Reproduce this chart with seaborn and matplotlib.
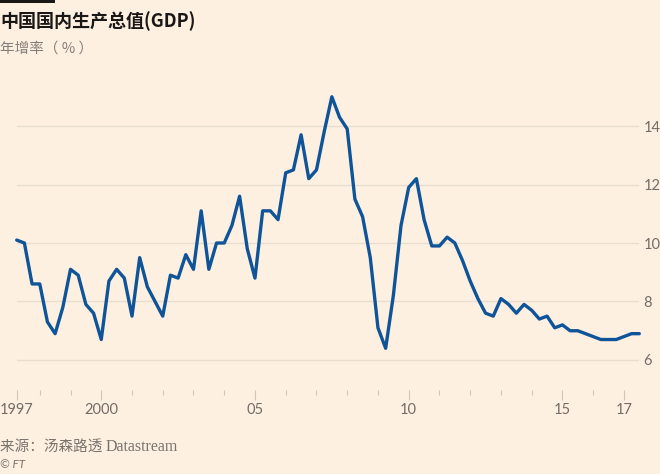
import matplotlib
matplotlib.use("Agg")
import matplotlib.pyplot as plt
from matplotlib.patches import Rectangle
import seaborn as sns
import pandas as pd

# 中国GDP 季度同比增长（%），1997Q1 - 2017Q2
quarters = pd.period_range("1997Q1", "2017Q2", freq="Q")
gdp_growth = [
    10.1, 10.0, 8.6, 8.6,    # 1997
    7.3, 6.9, 7.8, 9.1,      # 1998
    8.9, 7.9, 7.6, 6.7,      # 1999
    8.7, 9.1, 8.8, 7.5,      # 2000
    9.5, 8.5, 8.0, 7.5,      # 2001
    8.9, 8.8, 9.6, 9.1,      # 2002
    11.1, 9.1, 10.0, 10.0,   # 2003
    10.6, 11.6, 9.8, 8.8,    # 2004
    11.1, 11.1, 10.8, 12.4,  # 2005
    12.5, 13.7, 12.2, 12.5,  # 2006
    13.8, 15.0, 14.3, 13.9,  # 2007
    11.5, 10.9, 9.5, 7.1,    # 2008
    6.4, 8.2, 10.6, 11.9,    # 2009
    12.2, 10.8, 9.9, 9.9,    # 2010
    10.2, 10.0, 9.4, 8.7,    # 2011
    8.1, 7.6, 7.5, 8.1,      # 2012
    7.9, 7.6, 7.9, 7.7,      # 2013
    7.4, 7.5, 7.1, 7.2,      # 2014
    7.0, 7.0, 6.9, 6.8,      # 2015
    6.7, 6.7, 6.7, 6.8,      # 2016
    6.9, 6.9,                # 2017
]
y_ticks = [6, 8, 10, 12, 14]
x_major = [1997.25, 2000, 2005, 2010, 2015, 2017]
x_major_labels = ["1997", "2000", "05", "10", "15", "17"]
x_minor = [y for y in range(1998, 2017) if y not in x_major]

# 季度末的时间位置
df = pd.DataFrame({"t": quarters.year + quarters.quarter / 4, "gdp": gdp_growth})

bg = "#fdf0e1"
grey = "#736c66"
sns.set_theme(style="white")
plt.rcParams["font.family"] = ["Lato", "Noto Sans CJK SC", "DejaVu Sans"]

W, H = 660, 474
fig = plt.figure(figsize=(W / 100, H / 100), dpi=100, facecolor=bg)
ax = fig.add_axes([16.7 / W, 84 / H, 622.6 / W, 302 / H])
ax.set_facecolor(bg)

sns.lineplot(data=df, x="t", y="gdp", color="#0f5499", linewidth=2.4, ax=ax)
for ln in ax.lines:
    ln.set_clip_on(False)

ax.set_xlim(1997.25, 2017.5)
ax.set_ylim(4.974, 15.3)
ax.set_xlabel("")
ax.set_ylabel("")

ax.yaxis.tick_right()
ax.set_yticks(y_ticks)
ax.tick_params(axis="y", length=0, pad=3, labelsize=10.5, labelcolor=grey)
ax.grid(axis="y", color="#e8ddd0", linewidth=1)
ax.grid(axis="x", visible=False)

ax.set_xticks(x_major, x_major_labels)
ax.set_xticks(x_minor, minor=True)
ax.tick_params(axis="x", which="major", bottom=True, length=7.2, width=0.8,
               color="#cfc5ba", pad=2.5, labelsize=10.5, labelcolor=grey)
ax.tick_params(axis="x", which="minor", bottom=True, length=3.5, width=0.8,
               color="#cfc5ba")
for s in ax.spines.values():
    s.set_visible(False)

# 标题等文字
cjk = ["Noto Sans CJK SC", "DejaVu Sans"]
fig.add_artist(Rectangle((0, 1 - 3 / H), 55 / W, 3 / H, transform=fig.transFigure,
                         color="#1a1817", lw=0))
fig.text(0, 1 - 21 / H, "中国国内生产总值(GDP)", family=cjk, fontsize=13,
         fontweight="bold", color="#1a1817", va="center")
fig.text(0, 1 - 49 / H, "年增率（ % ）", family=cjk, fontsize=10.5, color="#857e78",
         va="center")
src = fig.text(0, 1 - 447 / H, "来源：汤森路透 ", family=cjk, fontsize=10.5,
               color="#7a736d", va="center")
ax.annotate("Datastream", xy=(1, 0.5), xycoords=src, va="center", ha="left",
            family="Liberation Serif", fontsize=11.5, color="#7a736d",
            annotation_clip=False)
fig.text(0, 1 - 464 / H, "© FT", fontsize=8.5, style="italic", color="#7a736d",
         va="center")

fig.savefig("out.png", dpi=100, facecolor=bg)
